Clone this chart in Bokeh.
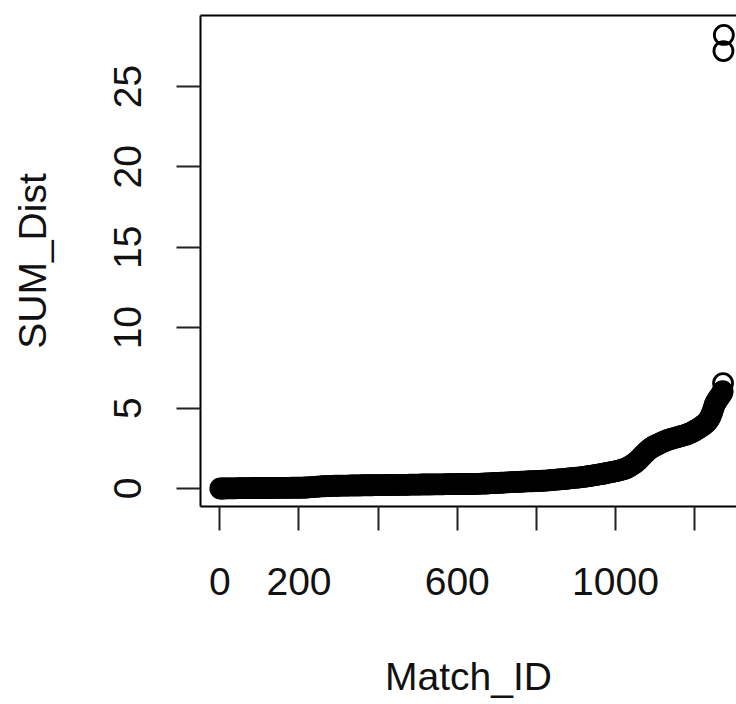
from bokeh.plotting import figure
from bokeh.models import Range1d, FixedTicker, LinearAxis, ColumnDataSource
from bokeh.embed import file_html
from bokeh.resources import INLINE

# ---- data ----
match_id = [
    1, 5, 10, 15, 20, 25, 30, 35, 40, 45, 50, 55, 60, 65, 70, 75, 80, 85, 90, 95,
    100, 105, 110, 115, 120, 125, 130, 135, 140, 145, 150, 155, 160, 165, 170, 175, 180, 185, 190, 195,
    200, 205, 210, 215, 220, 225, 230, 235, 240, 245, 250, 255, 260, 265, 270, 275, 280, 285, 290, 295,
    300, 305, 310, 315, 320, 325, 330, 335, 340, 345, 350, 355, 360, 365, 370, 375, 380, 385, 390, 395,
    400, 405, 410, 415, 420, 425, 430, 435, 440, 445, 450, 455, 460, 465, 470, 475, 480, 485, 490, 495,
    500, 505, 510, 515, 520, 525, 530, 535, 540, 545, 550, 555, 560, 565, 570, 575, 580, 585, 590, 595,
    600, 605, 610, 615, 620, 625, 630, 635, 640, 645, 650, 655, 660, 665, 670, 675, 680, 685, 690, 695,
    700, 705, 710, 715, 720, 725, 730, 735, 740, 745, 750, 755, 760, 765, 770, 775, 780, 785, 790, 795,
    800, 805, 810, 815, 820, 825, 830, 835, 840, 845, 850, 855, 860, 865, 870, 875, 880, 885, 890, 895,
    900, 905, 910, 915, 920, 925, 930, 935, 940, 945, 950, 955, 960, 965, 970, 975, 980, 985, 990, 995,
    1000, 1005, 1010, 1015, 1020, 1025, 1030, 1035, 1040, 1045, 1050, 1055, 1060, 1065, 1070, 1075, 1080, 1085, 1090, 1095,
    1100, 1105, 1110, 1115, 1120, 1125, 1130, 1135, 1140, 1145, 1150, 1155, 1160, 1165, 1170, 1175, 1180, 1185, 1190, 1195,
    1200, 1205, 1210, 1215, 1220, 1225, 1230, 1232, 1235, 1237, 1240, 1242, 1245, 1247, 1250, 1252, 1255, 1257, 1260, 1262,
    1265, 1267, 1270, 1271, 1272, 1273, 1274,
]

sum_dist = [
    0.00, 0.00, 0.00, 0.01, 0.01, 0.01, 0.01, 0.01, 0.01, 0.02, 0.02, 0.02, 0.02, 0.02, 0.02, 0.02, 0.02, 0.03, 0.03, 0.03,
    0.03, 0.03, 0.03, 0.03, 0.03, 0.03, 0.03, 0.04, 0.04, 0.04, 0.04, 0.04, 0.04, 0.04, 0.04, 0.04, 0.05, 0.05, 0.05, 0.05,
    0.05, 0.05, 0.05, 0.06, 0.06, 0.07, 0.08, 0.09, 0.10, 0.11, 0.12, 0.13, 0.14, 0.14, 0.15, 0.15, 0.16, 0.16, 0.17, 0.17,
    0.17, 0.18, 0.18, 0.18, 0.18, 0.18, 0.19, 0.19, 0.19, 0.19, 0.19, 0.19, 0.20, 0.20, 0.20, 0.20, 0.20, 0.20, 0.21, 0.21,
    0.21, 0.21, 0.21, 0.21, 0.22, 0.22, 0.22, 0.22, 0.22, 0.22, 0.23, 0.23, 0.23, 0.23, 0.23, 0.23, 0.24, 0.24, 0.24, 0.24,
    0.24, 0.24, 0.25, 0.25, 0.25, 0.25, 0.25, 0.25, 0.26, 0.26, 0.26, 0.26, 0.26, 0.26, 0.27, 0.27, 0.27, 0.27, 0.27, 0.27,
    0.28, 0.28, 0.28, 0.28, 0.28, 0.28, 0.28, 0.28, 0.28, 0.29, 0.29, 0.29, 0.30, 0.30, 0.31, 0.31, 0.32, 0.33, 0.33, 0.34,
    0.35, 0.35, 0.36, 0.36, 0.37, 0.38, 0.38, 0.39, 0.40, 0.40, 0.41, 0.41, 0.42, 0.43, 0.43, 0.44, 0.44, 0.45, 0.45, 0.46,
    0.46, 0.47, 0.47, 0.48, 0.49, 0.49, 0.50, 0.52, 0.53, 0.54, 0.55, 0.56, 0.57, 0.58, 0.59, 0.60, 0.62, 0.63, 0.64, 0.66,
    0.67, 0.68, 0.69, 0.71, 0.72, 0.74, 0.76, 0.78, 0.80, 0.82, 0.84, 0.86, 0.88, 0.90, 0.92, 0.95, 0.97, 1.00, 1.02, 1.05,
    1.07, 1.10, 1.13, 1.16, 1.20, 1.24, 1.29, 1.36, 1.44, 1.52, 1.60, 1.70, 1.82, 1.95, 2.08, 2.20, 2.32, 2.43, 2.52, 2.60,
    2.66, 2.72, 2.78, 2.84, 2.90, 2.95, 3.00, 3.04, 3.08, 3.12, 3.15, 3.18, 3.22, 3.25, 3.29, 3.32, 3.36, 3.41, 3.46, 3.52,
    3.59, 3.66, 3.74, 3.82, 3.90, 3.99, 4.10, 4.16, 4.25, 4.33, 4.45, 4.58, 4.75, 4.92, 5.15, 5.28, 5.40, 5.50, 5.60, 5.68,
    5.75, 5.85, 5.95, 6.05, 6.55, 27.2, 28.2,
]

x_ticks = [0, 200, 400, 600, 800, 1000, 1200]
x_tick_labels = ["0", "200", "", "600", "", "1000", ""]
y_ticks = [0, 5, 10, 15, 20, 25]
y_tick_labels = ["0", "5", "10", "15", "20", "25"]

FONT = "Liberation Sans"
FS = "39px"

p = figure(
    width=736, height=704,
    output_backend="svg", toolbar_location=None,
    x_range=Range1d(-49, 1306), y_range=Range1d(-1.12, 29.41),
    min_border_left=200, min_border_right=0, min_border_top=15, min_border_bottom=198,
    outline_line_color=None, background_fill_color="white", border_fill_color="white",
)
p.xgrid.visible = False
p.ygrid.visible = False

src = ColumnDataSource(dict(x=match_id, y=sum_dist))
p.scatter("x", "y", source=src, marker="circle", size=19,
          fill_color=None, line_color="black", line_width=2.8)

# bottom axis
xa = p.xaxis[0]
xa.ticker = FixedTicker(ticks=x_ticks)
xa.major_label_overrides = {t: l for t, l in zip(x_ticks, x_tick_labels)}
xa.axis_label = "Match_ID"

# left axis
ya = p.yaxis[0]
ya.ticker = FixedTicker(ticks=y_ticks)
ya.major_label_overrides = {t: l for t, l in zip(y_ticks, y_tick_labels)}
ya.axis_label = "SUM_Dist"
ya.major_label_orientation = "vertical"

for ax in (xa, ya):
    ax.axis_line_color = "black"
    ax.axis_line_width = 2
    ax.major_tick_line_color = "#222222"
    ax.major_tick_line_width = 2
    ax.major_tick_out = 24
    ax.major_tick_in = 0
    ax.minor_tick_line_color = None
    ax.major_label_text_font = FONT
    ax.major_label_text_font_size = FS
    ax.major_label_text_color = "#111111"
    ax.axis_label_text_font = FONT
    ax.axis_label_text_font_size = FS
    ax.axis_label_text_font_style = "normal"
    ax.axis_label_text_color = "#111111"

xa.major_label_standoff = 37
xa.axis_label_standoff = 57
ya.major_label_standoff = 35
ya.axis_label_standoff = 58

# top border line of the box
top = LinearAxis(ticker=FixedTicker(ticks=[]), major_tick_out=0, major_tick_in=0,
                 minor_tick_out=0, minor_tick_in=0, axis_line_width=2, axis_line_color="black",
                 major_label_text_font_size="0px")
p.add_layout(top, "above")

open("out.html", "w").write(file_html(p, INLINE))
